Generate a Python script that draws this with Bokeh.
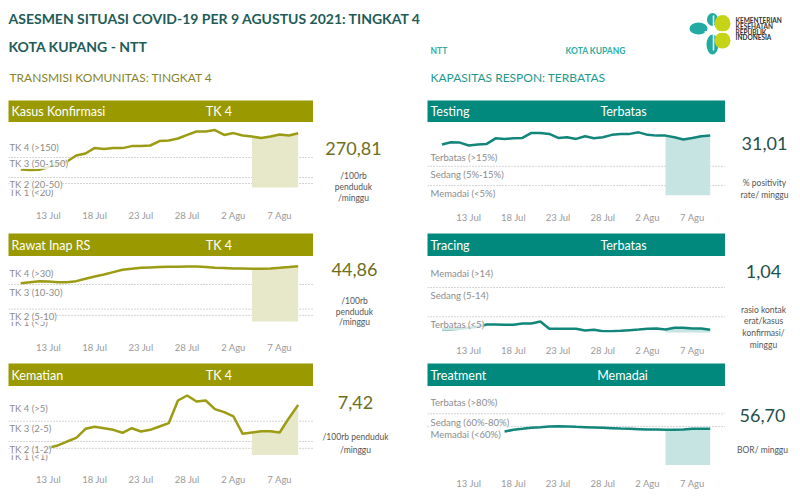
import pandas as pd
from bokeh.plotting import figure
from bokeh.models import Range1d, Span, Label, FixedTicker
from bokeh.layouts import row, column, Spacer
from bokeh.embed import file_html
from bokeh.resources import INLINE
from bokeh.core.properties import value

FONT = "Lato"

# ---------------- data ----------------
dates = pd.date_range("2021-07-10", "2021-08-09", freq="D")
shade_start = pd.Timestamp("2021-08-04")

kasus = [90, 87, 89, 102, 117, 130, 160, 170, 198, 193, 197, 197, 207, 208, 210,
         232, 235, 245, 263, 280, 280, 287, 263, 272, 260, 255, 247, 255, 265, 260, 270.81]
rawat = [31.1, 31.9, 32.7, 32.4, 31.9, 31.9, 32.7, 34.6, 36.5, 38.1, 40.0, 41.9, 42.7,
         43.5, 43.8, 44.1, 44.3, 44.3, 44.6, 44.6, 44.1, 43.5, 43.3, 43.0, 43.0, 42.7,
         42.7, 43.0, 43.5, 44.1, 44.86]
kematian_start = "2021-07-13"
kematian = [1.08, 1.42, 2.0, 2.55, 3.88, 4.18, 3.97, 3.73, 3.29, 3.97, 3.49, 3.73, 4.22,
            4.71, 8.06, 8.8, 7.92, 8.06, 6.78, 6.34, 5.7, 3.14, 3.34, 3.53, 3.53, 3.34,
            5.45, 7.42]
testing = [26.3, 27.5, 27.3, 25.8, 26.3, 26.6, 29.5, 29.2, 29.5, 29.7, 32.3, 32.3, 31.8,
           29.7, 30.1, 29.2, 30.6, 29.5, 30.1, 31.3, 31.8, 31.8, 32.6, 31.3, 30.9, 30.9,
           30.1, 28.9, 29.7, 30.6, 31.01]
tracing = [1.23, 1.23, 1.33, 1.64, 1.94, 2.66, 2.66, 2.56, 2.56, 2.97, 2.97, 3.58, 1.33,
           1.33, 1.33, 1.33, 0.82, 1.02, 0.61, 0.61, 0.72, 0.92, 1.12, 1.33, 1.43, 1.12,
           1.64, 1.64, 1.43, 1.43, 1.04]
treatment_start = "2021-07-17"
treatment = [52.3, 55, 56.5, 58.1, 59.1, 60.2, 60.7, 60.2, 59.6, 59.1, 58.6, 58.1, 57.6,
             57, 56.5, 56, 55.5, 55.5, 55, 55, 55.5, 56.5, 56.5, 56.70]

tick_dates = ["2021-07-13", "2021-07-18", "2021-07-23", "2021-07-28", "2021-08-02", "2021-08-07"]
tick_labels = ["13 Jul", "18 Jul", "23 Jul", "28 Jul", "2 Agu", "7 Agu"]

kasus_thr = [150, 50, 20]
rawat_thr = [30, 10, 5]
kematian_thr = [5, 2, 1]
testing_thr = [15, 5]
tracing_thr = [14, 5]
treatment_thr = [80, 60]

kasus_lbl = ["TK 4 (>150)", "TK 3 (50-150)", "TK 1 (<20)", "TK 2 (20-50)"]
rawat_lbl = ["TK 4 (>30)", "TK 3 (10-30)", "TK 1 (<5)", "TK 2 (5-10)"]
kematian_lbl = ["TK 4 (>5)", "TK 3 (2-5)", "TK 1 (<1)", "TK 2 (1-2)"]
testing_lbl = ["Terbatas (>15%)", "Sedang (5%-15%)", "Memadai (<5%)"]
tracing_lbl = ["Memadai (>14)", "Sedang (5-14)", "Terbatas (<5)"]
treatment_lbl = ["Terbatas (>80%)", "Sedang (60%-80%)", "Memadai (<60%)"]

# ---------------- styles / positions ----------------
OLIVE = "#9a9a00"
OLIVE_LINE = "#9c9c14"
OLIVE_SHADE = "#e7e7c9"
OLIVE_TXT = "#6e6e1e"
TEAL = "#00897c"
TEAL_LINE = "#13867b"
TEAL_SHADE = "#c6e4e1"
TEAL_TXT = "#1f4f4d"
TITLE_C = "#1e5c57"

t0 = pd.Timestamp("2021-07-10").value / 1e6
DAY = 86400000.0
tick_ms = [pd.Timestamp(d).value / 1e6 for d in tick_dates]


def header(w, h, left, center, cx, color):
    p = figure(width=w, height=h, x_range=Range1d(0, w), y_range=Range1d(0, 1),
               x_axis_location=None, y_axis_location=None, toolbar_location=None,
               output_backend="svg", min_border=0)
    p.background_fill_color = color
    p.border_fill_color = "white"
    p.outline_line_color = None
    p.grid.visible = False
    p.text(x=[3], y=[0.5], text=[left], text_color="white", text_font=value(FONT),
           text_font_size="12.5px", text_baseline="middle")
    p.text(x=[cx], y=[0.5], text=[center], text_color="white", text_font=value(FONT),
           text_font_size="12.5px", text_baseline="middle", text_align="center")
    return p


def chart(w, h, bb, xd, yr, x, y, color, shade, thr, lbls, lbl_y, lx):
    p = figure(width=w, height=h, x_axis_type="datetime", y_axis_location=None,
               x_range=Range1d(t0 + xd[0] * DAY, t0 + xd[1] * DAY),
               y_range=Range1d(*yr), toolbar_location=None, output_backend="svg",
               min_border_left=0, min_border_right=0, min_border_top=0,
               min_border_bottom=bb)
    p.outline_line_color = None
    p.grid.visible = False
    ax = p.xaxis[0]
    ax.ticker = FixedTicker(ticks=tick_ms)
    ax.major_label_overrides = {m: l for m, l in zip(tick_ms, tick_labels)}
    ax.axis_line_color = None
    ax.major_tick_line_color = None
    ax.minor_tick_line_color = None
    ax.major_label_text_color = "#9a9a9a"
    ax.major_label_text_font = FONT
    ax.major_label_text_font_size = "9.5px"
    ax.major_label_standoff = 6
    for t in thr:
        p.add_layout(Span(location=t, dimension="width", line_color="#a8a8a8",
                          line_dash="1 2", line_width=1, level="underlay"))
    m = (pd.Series(x) >= shade_start).values
    sx = [xx for xx, k in zip(x, m) if k]
    sy = [yy for yy, k in zip(y, m) if k]
    p.varea(x=sx, y1=0, y2=sy, fill_color=shade)
    p.line(x, y, line_color=color, line_width=2.5)
    for t, yy in zip(lbls, lbl_y):
        p.add_layout(Label(x=lx, y=yy, x_units="screen", text=t, text_color="#8c8c8c",
                           text_font=FONT, text_font_size="9.5px", text_baseline="middle",
                           background_fill_color="white", background_fill_alpha=0.8))
    return p


def valuefig(w, h, big, by, small, sy, cx, bigc):
    p = figure(width=w, height=h, x_range=Range1d(0, w), y_range=Range1d(h, 0),
               x_axis_location=None, y_axis_location=None, toolbar_location=None,
               output_backend="svg", min_border=0)
    p.outline_line_color = None
    p.grid.visible = False
    p.text(x=[cx], y=[by], text=[big], text_color=bigc, text_font=value(FONT),
           text_font_size="18px", text_align="center", text_baseline="middle")
    p.text(x=[cx] * len(small), y=sy, text=small, text_color="#555555",
           text_font=value(FONT), text_font_size="8.5px", text_align="center",
           text_baseline="middle")
    return p


# ---------------- top header (page coordinates) ----------------
top = figure(width=800, height=100, x_range=Range1d(0, 800), y_range=Range1d(100, 0),
             x_axis_location=None, y_axis_location=None, toolbar_location=None,
             output_backend="svg", min_border=0)
top.outline_line_color = None
top.grid.visible = False
top.text(x=[8], y=[18], text=["ASESMEN SITUASI COVID-19 PER 9 AGUSTUS 2021: TINGKAT 4"],
         text_color=TITLE_C, text_font=value(FONT), text_font_size="14px",
         text_font_style="bold", text_baseline="middle")
top.text(x=[8], y=[46], text=["KOTA KUPANG - NTT"], text_color=TITLE_C,
         text_font=value(FONT), text_font_size="14px", text_font_style="bold",
         text_baseline="middle")
top.text(x=[430, 565], y=[50, 50], text=["NTT", "KOTA KUPANG"], text_color="#2fae9f",
         text_font=value(FONT), text_font_size="8.5px", text_font_style="bold",
         text_baseline="middle")
top.text(x=[9], y=[77], text=["TRANSMISI KOMUNITAS: TINGKAT 4"], text_color="#86862a",
         text_font=value(FONT), text_font_size="12px", text_baseline="middle")
top.text(x=[430], y=[77], text=["KAPASITAS RESPON: TERBATAS"], text_color="#1d9a8c",
         text_font=value(FONT), text_font_size="12px", text_baseline="middle")
# logo
top.ellipse(x=[698, 712, 712], y=[28, 19, 44], width=[18, 11, 12], height=[12, 13, 20],
            fill_color="#22aaa3", line_color=None)
top.ellipse(x=[722, 722], y=[23, 40], width=[16, 16], height=[17, 16],
            fill_color="#c5d415", line_color=None)
top.segment(x0=[704, 713], y0=[31.5, 15], x1=[731, 713], y1=[31.5, 50],
            line_color="white", line_width=1.5)
top.text(x=[735] * 4, y=[20, 25.7, 31.5, 37.3],
         text=["KEMENTERIAN", "KESEHATAN", "REPUBLIK", "INDONESIA"], text_color="#333333",
         text_font=value(FONT), text_font_size="6.5px", text_font_style="bold",
         text_baseline="middle")

# ---------------- rows ----------------
LW, VW1, RW, VW2 = 305, 114, 298, 75
LXD = (-1.33, 31.66)
RXD = (-1.62, 31.71)

k_dates = list(dates)
kem_dates = list(pd.date_range(kematian_start, "2021-08-09", freq="D"))
tre_dates = list(pd.date_range(treatment_start, "2021-08-09", freq="D"))

r1 = row(
    Spacer(width=8, height=133),
    column(header(LW, 22, "Kasus Konfirmasi", "TK  4", 212, OLIVE),
           chart(LW, 111, 36, LXD, (-50, 325), k_dates, kasus, OLIVE_LINE, OLIVE_SHADE,
                 kasus_thr, kasus_lbl, [200, 120, -25, 15], 1)),
    valuefig(VW1, 133, "270,81", 48, ["/100rb", "penduduk", "/minggu"], [75, 86, 97], 40,
             OLIVE_TXT),
    column(header(RW, 22, "Testing", "Terbatas", 196, TEAL),
           chart(RW, 111, 34, RXD, (-2.2, 37.7), k_dates, testing, TEAL_LINE, TEAL_SHADE,
                 testing_thr, testing_lbl, [19.4, 10.7, 0.7], 3)),
    valuefig(VW2, 133, "31,01", 42.7, ["% positivity", "rate/ minggu"], [82.7, 94.3], 39,
             TEAL_TXT),
)
r2 = row(
    Spacer(width=8, height=130),
    column(header(LW, 23, "Rawat Inap RS", "TK  4", 212, OLIVE),
           chart(LW, 107, 34, LXD, (-6.5, 52.7), k_dates, rawat, OLIVE_LINE, OLIVE_SHADE,
                 rawat_thr, rawat_lbl, [38.9, 23.5, -0.8, 4.1], 1)),
    valuefig(VW1, 130, "44,86", 36.3, ["/100rb", "penduduk", "/minggu"], [67, 78, 88.7], 41,
             OLIVE_TXT),
    column(header(RW, 23, "Tracing", "Terbatas", 196, TEAL),
           chart(RW, 107, 31, RXD, (0.2, 23.5), k_dates, tracing, TEAL_LINE, TEAL_SHADE,
                 tracing_thr, tracing_lbl, [18.4, 11.6, 2.6], 3)),
    valuefig(VW2, 130, "1,04", 37.7, ["rasio kontak", "erat/kasus", "konfirmasi/", "minggu"],
             [76.3, 87.7, 99.7, 111], 38, TEAL_TXT),
)
r3 = row(
    Spacer(width=8, height=129),
    column(header(LW, 23, "Kematian", "TK  4", 212, OLIVE),
           chart(LW, 106, 31, LXD, (-0.95, 10.13), kem_dates, kematian, OLIVE_LINE,
                 OLIVE_SHADE, kematian_thr, kematian_lbl, [6.93, 3.88, -0.2, 0.78], 1)),
    valuefig(VW1, 129, "7,42", 38.7, ["/100rb penduduk", "/minggu"], [73.7, 86.3], 42,
             OLIVE_TXT),
    column(header(RW, 23, "Treatment", "Memadai", 195, TEAL),
           chart(RW, 106, 27, RXD, (-0.8, 122.7), tre_dates, treatment, TEAL_LINE, TEAL_SHADE,
                 treatment_thr, treatment_lbl, [98.1, 66.9, 47.7], 3)),
    valuefig(VW2, 129, "56,70", 52, ["BOR/ minggu"], [86.3], 37, TEAL_TXT),
)

layout = column(top, r1, r2, r3)
open("out.html", "w").write(file_html(layout, INLINE))
